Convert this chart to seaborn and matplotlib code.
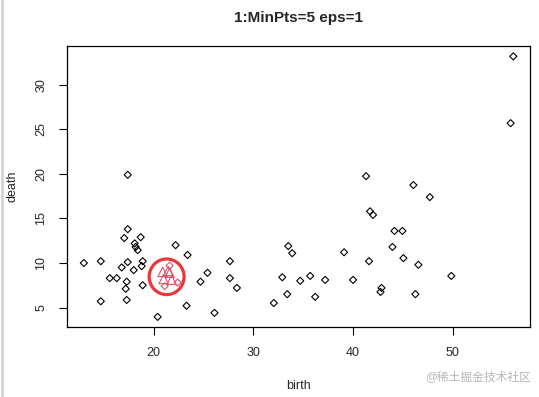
import numpy as np
import pandas as pd
import seaborn as sns
import matplotlib.pyplot as plt
from matplotlib.patches import Ellipse
from matplotlib.lines import Line2D

# noise points (black diamonds)
birth = [13.0, 14.7, 14.7, 15.6, 16.3, 16.8, 17.05, 17.4, 17.4, 17.4, 17.3, 17.2, 17.3,
         18.0, 18.1, 18.2, 18.4, 18.7, 18.9, 18.8, 18.9, 20.4, 22.2, 23.4, 23.3, 24.7,
         25.4, 26.1, 27.65, 27.65, 28.35, 32.05, 32.9, 33.5, 33.9, 33.4, 34.7, 35.7,
         36.2, 37.2, 39.1, 40.0, 41.3, 41.7, 42.0, 41.6, 42.85, 42.75, 43.95, 44.15,
         44.95, 45.05, 46.05, 46.25, 46.55, 47.7, 49.85, 55.8, 56.07]
death = [10.0, 10.2, 5.7, 8.3, 8.3, 9.5, 12.8, 19.9, 13.8, 10.1, 7.9, 7.1, 5.85,
         9.2, 12.2, 11.8, 11.45, 12.9, 10.2, 9.65, 7.5, 3.95, 12.0, 10.9, 5.2, 7.9,
         8.9, 4.4, 10.2, 8.3, 7.2, 5.5, 8.4, 11.9, 11.1, 6.5, 8.0, 8.55,
         6.2, 8.1, 11.2, 8.1, 19.75, 15.8, 15.4, 10.2, 7.2, 6.75, 11.8, 13.6,
         13.6, 10.55, 18.75, 6.5, 9.8, 17.4, 8.55, 25.7, 33.2]

# cluster 1: core points (triangles) and border points (diamonds)
core_birth = [20.9, 21.45, 21.6, 21.0, 21.8]
core_death = [9.0, 9.1, 8.9, 8.2, 8.1]
border_birth = [21.6, 22.4, 21.1]
border_death = [9.7, 7.8, 7.4]

title = "1:MinPts=5 eps=1"
cluster_color = "#DF536B"

sns.set_style("white")
plt.rcParams['font.family'] = ['Liberation Sans', 'Noto Sans CJK SC', 'DejaVu Sans']

fig = plt.figure(figsize=(5.39, 3.97), dpi=100)
ax = fig.add_axes([0.1237, 0.1756, 0.8605, 0.7086])

noise = pd.DataFrame({'birth': birth, 'death': death})
sns.scatterplot(data=noise, x='birth', y='death', marker='D', s=13,
                facecolor='none', edgecolor='black', linewidth=0.8, ax=ax)
sns.scatterplot(x=core_birth, y=core_death, marker='^', s=45,
                facecolor='none', edgecolor=cluster_color, linewidth=0.8, ax=ax)
sns.scatterplot(x=border_birth, y=border_death, marker='D', s=13,
                facecolor='none', edgecolor=cluster_color, linewidth=0.8, ax=ax)

# R-style 4% padding
allx = birth + core_birth + border_birth
ally = death + core_death + border_death
rx = max(allx) - min(allx)
ry = max(ally) - min(ally)
ax.set_xlim(min(allx) - 0.04 * rx, max(allx) + 0.04 * rx)
ax.set_ylim(min(ally) - 0.04 * ry, max(ally) + 0.04 * ry)

# red circle highlighting the cluster
ax.add_patch(Ellipse((21.3, 8.45), 3.5, 4.0, fill=False, edgecolor='#E8383D', linewidth=2.3))

ax.set_xticks([20, 30, 40, 50])
ax.set_yticks([5, 10, 15, 20, 25, 30])
ax.tick_params(axis='both', direction='out', length=6, width=0.8, color='black',
               labelsize=9, pad=8, bottom=True, left=True)
for lab in ax.get_yticklabels():
    lab.set_rotation(90)
    lab.set_va('center')
for sp in ax.spines.values():
    sp.set_visible(True)
    sp.set_color('black')
    sp.set_linewidth(0.9)

ax.set_xlabel('birth', fontsize=9, labelpad=15)
ax.set_ylabel('death', fontsize=9, labelpad=12)
ax.set_title(title, fontsize=11, fontweight='bold', pad=17)

# watermark and left border of the screenshot
fig.text(0.985, 0.05, '@稀土掘金技术社区', ha='right', va='center', fontsize=8.5,
         color='#b8b8b8')
fig.add_artist(Line2D([0.004, 0.004], [0, 1], transform=fig.transFigure,
                      color='#d4d4d4', linewidth=2))

fig.savefig('out.png', dpi=100)
